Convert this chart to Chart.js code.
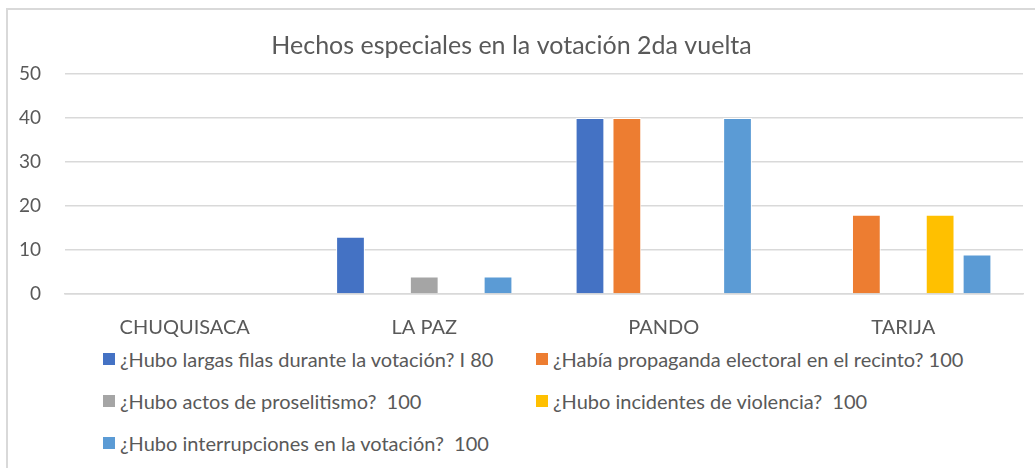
<!DOCTYPE html>
<html>
<head>
<meta charset="utf-8">
<script src="https://cdn.jsdelivr.net/npm/chart.js@4.4.1/dist/chart.umd.min.js"></script>
<style>
  html, body { margin: 0; padding: 0; background: #fff; }
  body { width: 1035px; height: 468px; position: relative; overflow: hidden; font-family: Lato, "Liberation Sans", sans-serif; }
  .frame { position: absolute; left: 6px; top: 8px; width: 1100px; height: 500px; border-left: 2px solid #d9d9d9; border-top: 2px solid #d9d9d9; }
  .wrap { position: absolute; left: 0; top: 0; width: 1035px; height: 345px; }
  #legend { position: absolute; left: 103px; top: 346px; width: 900px; display: grid; grid-template-columns: 433px 433px; row-gap: 16px; }
  #legend .item { display: flex; align-items: center; font-size: 20px; color: #595959; white-space: pre; height: 26px; }
  #legend .box { width: 12px; height: 12px; margin-right: 5px; flex: none; }
</style>
</head>
<body>
<div class="frame"></div>
<div class="wrap"><canvas id="chart"></canvas></div>
<div id="legend"></div>
<script>
  const titleText = 'Hechos especiales en la votación 2da vuelta'
  const regions = ['CHUQUISACA', 'LA PAZ', 'PANDO', 'TARIJA']

  const seriesNames = [
    '¿Hubo largas filas durante la votación? I 80',
    '¿Había propaganda electoral en el recinto? 100',
    '¿Hubo actos de proselitismo?  100',
    '¿Hubo incidentes de violencia?  100',
    '¿Hubo interrupciones en la votación?  100'
  ]
  const largasFilas = [0, 13, 40, 0]
  const propaganda = [0, 0, 40, 18]
  const proselitismo = [0, 4, 0, 0]
  const violencia = [0, 0, 0, 18]
  const interrupciones = [0, 4, 40, 9]
  const seriesColors = ['#4472C4', '#ED7D31', '#A5A5A5', '#FFC000', '#5B9BD5']

  const yTicks = [0, 10, 20, 30, 40, 50]

  const values = [largasFilas, propaganda, proselitismo, violencia, interrupciones]
  const datasets = values.map((data, i) => ({
    label: seriesNames[i],
    data: data,
    backgroundColor: seriesColors[i],
    borderColor: '#ffffff',
    borderWidth: 1,
    categoryPercentage: 0.77,
    barPercentage: 0.78
  }))

  const textColor = '#595959'

  new Chart(document.getElementById('chart'), {
    type: 'bar',
    data: { labels: regions, datasets: datasets },
    options: {
      responsive: true,
      maintainAspectRatio: false,
      animation: false,
      layout: { padding: { left: 0, right: 12, top: 0, bottom: 0 } },
      plugins: {
        legend: { display: false },
        tooltip: { enabled: false },
        title: {
          display: true,
          text: titleText,
          color: textColor,
          font: { family: 'Lato', size: 25, weight: 'normal' },
          padding: { top: 31, bottom: 13 }
        }
      },
      scales: {
        x: {
          grid: { display: false },
          border: { display: true, color: '#d9d9d9', width: 1.5 },
          ticks: { color: textColor, font: { family: 'Lato', size: 20 }, padding: 14 },
          afterFit: (s) => { s.height = 51 }
        },
        y: {
          min: 0,
          max: 50,
          afterBuildTicks: (s) => { s.ticks = yTicks.map(v => ({ value: v })) },
          grid: { color: '#d9d9d9', lineWidth: 1.5, drawTicks: false },
          border: { display: false },
          ticks: { color: textColor, font: { family: 'Lato', size: 19 }, padding: 24 },
          afterFit: (s) => { s.width = 65 }
        }
      }
    }
  })

  const legend = document.getElementById('legend')
  seriesNames.forEach((name, i) => {
    const item = document.createElement('div')
    item.className = 'item'
    const box = document.createElement('span')
    box.className = 'box'
    box.style.background = seriesColors[i]
    const txt = document.createElement('span')
    txt.textContent = name
    item.appendChild(box)
    item.appendChild(txt)
    legend.appendChild(item)
  })
</script>
</body>
</html>
